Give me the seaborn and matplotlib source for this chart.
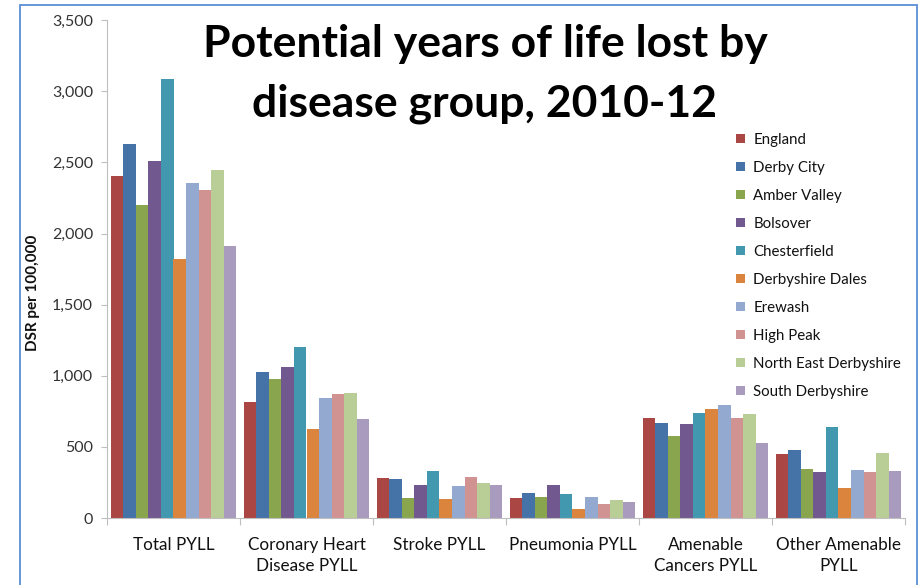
import matplotlib
matplotlib.use("Agg")
import matplotlib.pyplot as plt
import seaborn as sns
import pandas as pd
import numpy as np
from matplotlib.patches import Rectangle
from matplotlib.ticker import FuncFormatter, FixedLocator

groups = ["Total PYLL", "Coronary Heart\nDisease PYLL", "Stroke PYLL",
          "Pneumonia PYLL", "Amenable\nCancers PYLL", "Other Amenable\nPYLL"]
areas = ["England", "Derby City", "Amber Valley", "Bolsover", "Chesterfield",
         "Derbyshire Dales", "Erewash", "High Peak", "North East Derbyshire",
         "South Derbyshire"]
colors = ["#AA4643", "#4572A7", "#89A54E", "#71588F", "#4198AF",
          "#DB843D", "#93A9CF", "#D19392", "#B9CD96", "#A99BBD"]

england = [2405, 815, 280, 138, 704, 449]
derby_city = [2630, 1030, 272, 176, 669, 477]
amber_valley = [2200, 975, 143, 146, 580, 346]
bolsover = [2510, 1060, 230, 229, 660, 321]
chesterfield = [3085, 1200, 328, 172, 737, 641]
derbyshire_dales = [1820, 625, 133, 63, 770, 211]
erewash = [2355, 843, 222, 146, 793, 337]
high_peak = [2305, 873, 290, 97, 704, 325]
ne_derbyshire = [2445, 880, 243, 126, 730, 458]
south_derbyshire = [1910, 697, 234, 116, 524, 333]

series = [england, derby_city, amber_valley, bolsover, chesterfield,
          derbyshire_dales, erewash, high_peak, ne_derbyshire, south_derbyshire]

rows = []
for a, vals in zip(areas, series):
    for g, v in zip(groups, vals):
        rows.append({"group": g, "area": a, "value": v})
df = pd.DataFrame(rows)

sns.set_theme(style="white")
font = ["Lato", "DejaVu Sans"]
plt.rcParams["font.family"] = font

fig = plt.figure(figsize=(9.2, 5.85), dpi=100)
ax = fig.add_axes([107/920, 1 - 518/585, (905-107)/920, (518-20.3)/585])

sns.barplot(data=df, x="group", y="value", hue="area", order=groups,
            hue_order=areas, palette=colors, saturation=1, width=0.94,
            ax=ax, errorbar=None, edgecolor="none")

ax.set_ylim(0, 3500)
ax.set_xlim(-0.5, len(groups) - 0.5)
ax.yaxis.set_major_locator(FixedLocator(np.arange(0, 3501, 500)))
ax.yaxis.set_major_formatter(FuncFormatter(lambda v, p: f"{int(v):,}"))
ax.tick_params(axis="y", labelsize=11.5, length=4, width=0.8,
               direction="out", left=True, pad=6, colors="#BFBFBF",
               labelcolor="#333333")
ax.set_xticks(range(len(groups)))
ax.set_xticklabels(groups, fontsize=12.3, color="#111111", linespacing=1.35)
ax.tick_params(axis="x", length=0, pad=14)
ax.set_xticks(np.arange(-0.5, len(groups), 1.0), minor=True)
ax.tick_params(axis="x", which="minor", length=5, color="#BFBFBF", width=0.8,
               bottom=True)

for s in ["top", "right"]:
    ax.spines[s].set_visible(False)
for s in ["left", "bottom"]:
    ax.spines[s].set_color("#BFBFBF")
    ax.spines[s].set_linewidth(0.8)

ax.set_xlabel("")
ax.set_ylabel("DSR per 100,000", fontsize=11, fontweight="bold", color="#111111")
ax.yaxis.set_label_coords(40/920, 0.5, transform=fig.transFigure)

leg = ax.legend(loc="upper left", bbox_to_anchor=(730/920, 1 - 127/585),
                bbox_transform=fig.transFigure, frameon=False, fontsize=10.8,
                handlelength=0.6, handleheight=0.6, handletextpad=0.55,
                labelspacing=0.93, borderaxespad=0)
for t in leg.get_texts():
    t.set_color("#111111")

fig.text(485/920, 1 - 57/585, "Potential years of life lost by",
         ha="center", va="baseline", fontsize=32, fontweight="bold",
         color="#000000")
fig.text(485/920, 1 - 116/585, "disease group, 2010-12",
         ha="center", va="baseline", fontsize=32, fontweight="bold",
         color="#000000")

fig.patches.append(Rectangle((20/920, -0.02), (917-20)/920, 1.02 - 5/585,
                             transform=fig.transFigure, fill=False,
                             edgecolor="#5B8FD6", linewidth=1.3))

fig.savefig("out.png", dpi=100)
